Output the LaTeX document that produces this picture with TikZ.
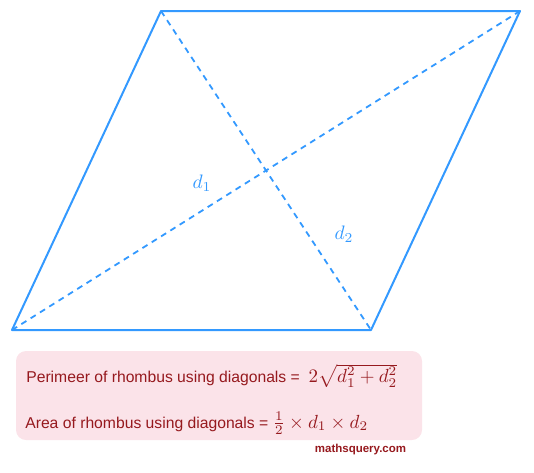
\documentclass[tikz,border=0pt]{standalone}
\usepackage{graphicx}
\usepackage{fontspec}
\newfontfamily\labelfont{Liberation Sans}
\definecolor{rhblue}{RGB}{51,153,255}
\definecolor{rhred}{RGB}{150,25,30}
\definecolor{rhpink}{RGB}{251,227,233}
\newcommand{\bigmath}[1]{\scalebox{1.21}{$#1$}}
\begin{document}
\begin{tikzpicture}[
    x=1pt, y=-1pt,
    side/.style={draw=rhblue, line width=2pt, line join=round},
    diag/.style={draw=rhblue, line width=1.8pt, dash pattern=on 6pt off 5pt},
    dlabel/.style={text=rhblue, scale=1.95, transform shape},
    formula/.style={text=rhred, font=\labelfont, scale=1.57, transform shape, anchor=base west, inner sep=0pt}
]
\useasboundingbox (0,0) rectangle (534,472);
% rhombus
\coordinate (A) at (12,330);
\coordinate (B) at (371,330);
\coordinate (C) at (520,11);
\coordinate (D) at (161,11);
\draw[side] (A) -- (B) -- (C) -- (D) -- cycle;
\draw[diag] (A) -- (C);
\draw[diag] (D) -- (B);
\node[dlabel] (d1) at (202,183) {$d_1$};
\node[dlabel] (d2) at (344,234) {$d_2$};
% formulas
\node[fill=rhpink, rounded corners=10pt, minimum width=406pt, minimum height=89pt, inner sep=0pt] (box) at (219,395.5) {};
\node[formula] (perim) at (26,382) {Perimeer of rhombus using diagonals = \ \bigmath{2\sqrt{d_1^2+d_2^2}}};
\node[formula] (area) at (25,428) {Area of rhombus using diagonals = \bigmath{\frac{1}{2}\times d_1\times d_2}};
\node[text=rhred, font=\labelfont\bfseries\fontsize{11.5}{13}\selectfont, inner sep=0pt] (site) at (360.5,450) {mathsquery.com};
\end{tikzpicture}
\end{document}
